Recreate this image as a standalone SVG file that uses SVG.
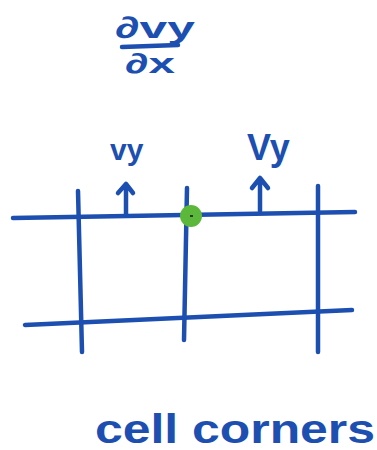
<svg xmlns="http://www.w3.org/2000/svg" width="377" height="450" viewBox="0 0 377 450">
<style>
.ln{stroke:#1c4fb0;stroke-width:4.5;fill:none;stroke-linecap:round;stroke-linejoin:round}
.t{fill:#1c4fb0;font-family:"Liberation Sans",Arial,sans-serif;font-weight:bold}
</style>
<rect width="377" height="450" fill="#fff"/>
<g id="formula">
<text class="t" x="115" y="38" font-size="30" textLength="80" lengthAdjust="spacingAndGlyphs">∂vy</text>
<path class="ln" d="M122 47 L178 45"/>
<text class="t" x="125" y="73" font-size="28" textLength="50" lengthAdjust="spacingAndGlyphs">∂x</text>
</g>
<g id="grid">
<path class="ln" d="M13 218 L355 212"/>
<path class="ln" d="M25 325 L352 310"/>
<path class="ln" d="M78 191 L82 352"/>
<path class="ln" d="M187 188 L184 340"/>
<path class="ln" d="M318 186 L318 352"/>
</g>
<g id="connectors">
<path class="ln" d="M126 214 L126 184 M118 193 L126 184 L133 193"/>
<path class="ln" d="M260 211 L260 178 M252 188 L260 178 L268 188"/>
</g>
<g id="label-vy-left">
<text class="t" x="110" y="160" font-size="30">vy</text>
</g>
<g id="label-vy-right">
<text class="t" x="247" y="160" font-size="36">Vy</text>
</g>
<g id="corner-point">
<circle cx="191" cy="216" r="11" fill="#5cb83a"/>
<path d="M190 216 L193 216" stroke="#333" stroke-width="2"/>
</g>
<g id="caption">
<text class="t" x="95" y="443" font-size="40" textLength="280" lengthAdjust="spacingAndGlyphs">cell corners</text>
</g>
</svg>
